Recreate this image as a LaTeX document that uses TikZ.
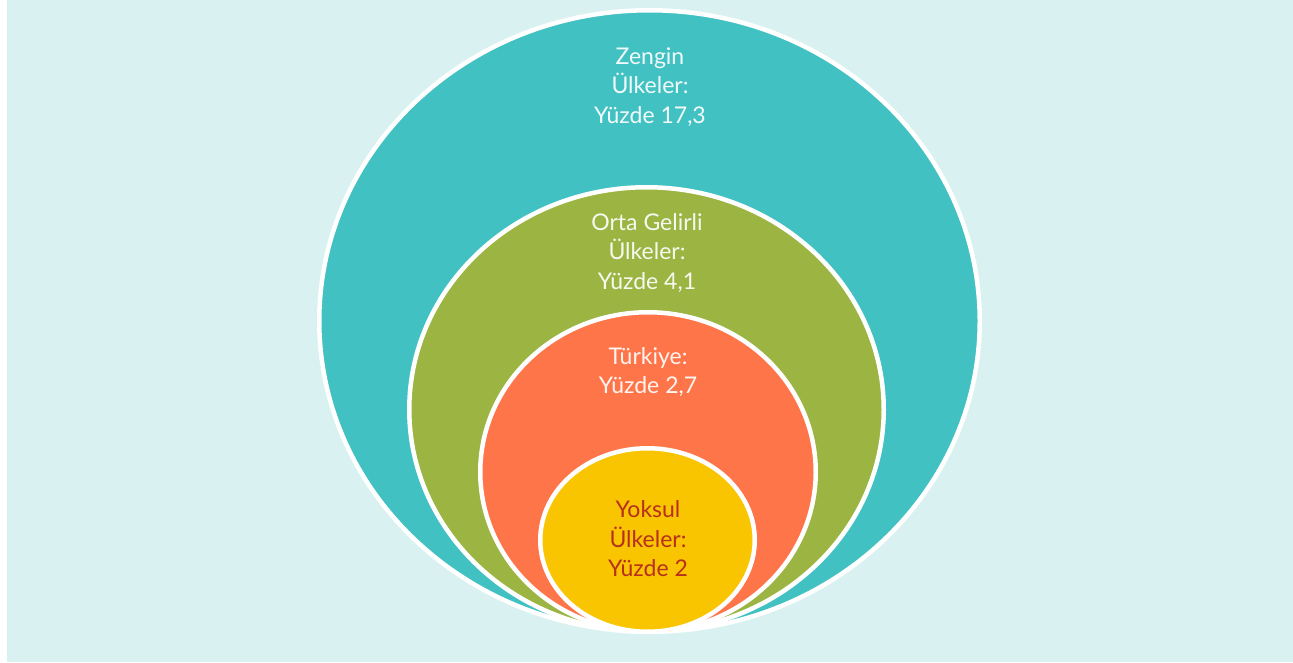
\documentclass[tikz,border=0pt]{standalone}
\usepackage{fontspec}
\setmainfont{Lato}
\usetikzlibrary{shapes.geometric}
\definecolor{bgc}{RGB}{217,242,241}
\definecolor{tealc}{RGB}{66,193,195}
\definecolor{greenc}{RGB}{155,180,66}
\definecolor{orangec}{RGB}{255,117,74}
\definecolor{yellowc}{RGB}{249,196,0}
\definecolor{redtext}{RGB}{183,48,30}
\tikzset{
  ring/.style={ellipse, draw=white, line width=4.5pt, inner sep=0pt, outer sep=0pt},
  lbl/.style={align=center, text=white, text opacity=0.92, font=\fontsize{23}{29.5}\selectfont, inner sep=0pt},
}
\begin{document}
\begin{tikzpicture}[x=1pt,y=-1pt]
\useasboundingbox (0,0) rectangle (1293,662);
\fill[white] (0,0) rectangle (1293,662);
\fill[bgc] (7,0) rectangle (1293,662);
\node[ring, fill=tealc, minimum width=660.5pt, minimum height=621.5pt] (zengin) at (649.5,321) {};
\node[ring, fill=greenc, minimum width=474.5pt, minimum height=444.5pt] (orta) at (646.5,409.5) {};
\node[ring, fill=orangec, minimum width=335.5pt, minimum height=319.5pt] (turkiye) at (648,472) {};
\node[ring, fill=yellowc, minimum width=214.5pt, minimum height=183.5pt] (yoksul) at (647.5,540) {};
\node[lbl] (tz) at (650,87) {Zengin\\Ülkeler:\\Yüzde 17,3};
\node[lbl] (to) at (647,253) {Orta Gelirli\\Ülkeler:\\Yüzde 4,1};
\node[lbl] (tt) at (648,372) {Türkiye:\\Yüzde 2,7};
\node[lbl, text=redtext, text opacity=1] (ty) at (648,539) {Yoksul\\Ülkeler:\\Yüzde 2};
\end{tikzpicture}
\end{document}
